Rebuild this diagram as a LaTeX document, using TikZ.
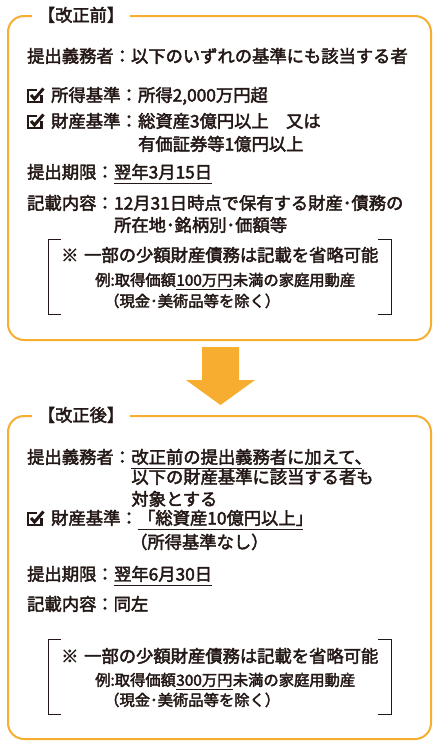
\documentclass[tikz,border=0pt]{standalone}
\usepackage{fontspec}
\setmainfont{Noto Sans CJK JP}[FakeBold=2.5]
\usepackage{xcolor}
\usepackage{tikz}
\usetikzlibrary{positioning}

\definecolor{kaiorange}{RGB}{246,173,48}
\definecolor{ink}{HTML}{231815}

\tikzset{
	txt/.style={font=\fontsize{17.3}{20}\selectfont, anchor=west, inner sep=0pt, text=ink, text height=14pt, text depth=3pt},
	txtl/.style={txt},
	txts/.style={txt, font=\fontsize{15.3}{18}\selectfont, text height=12pt, text depth=2.5pt},
	frame/.style={draw=kaiorange, line width=2pt, rounded corners=16pt},
	ttl/.style={txt, anchor=center, fill=white, minimum width=98pt, minimum height=20pt},
	brk/.style={draw=ink, line width=1pt},
	uline/.style={draw=ink, line width=1pt},
	chkbox/.pic={
		\draw[ink, line width=2.2pt] (9,-6) -- (0,-6) -- (0,6) -- (13.5,6) -- (13.5,-1);
		\draw[ink, line width=3pt] (3,-1) -- (6.5,3) -- (15.5,-7.5);
	}
}

\begin{document}
\begin{tikzpicture}[x=1pt, y=-1pt]
	\useasboundingbox (0,0) rectangle (440,750);

	\draw[frame] (8,16) rectangle (431,340);
	\node[ttl] at (81,16) (mae) {【改正前】};

	\node[txt] at (27,57) (gm1) {提出義務者：以下のいずれの基準にも該当する者};
	\pic at (28,96) {chkbox};
	\node[txt] at (51,96) (sk1) {所得基準：};
	\node[txt, right=0pt of sk1] (sk1v) {所得2,000万円超};
	\pic at (28,122) {chkbox};
	\node[txt] at (51,122) (zs1) {財産基準：};
	\node[txt, right=0pt of zs1] (zs1v) {総資産3億円以上　又は};
	\node[txt] at (zs1v.west |- 0,145) (zs1w) {有価証券等1億円以上};
	\node[txt] at (27,173) (kg1) {提出期限：};
	\node[txt, right=0pt of kg1] (kg1v) {翌年3月15日};
	\draw[uline] ([yshift=-5pt]kg1v.base west) -- ([yshift=-5pt]kg1v.base east);
	\node[txt] at (27,204) (kn1) {記載内容：};
	\node[txt, right=0pt of kn1] (kn1v) {12月31日時点で保有する財産･債務の};
	\node[txt] at (kn1v.west |- 0,226) (kn1w) {所在地･銘柄別･価額等};

	\draw[brk] (61,239) -| (48,314) -- (61,314);
	\draw[brk] (378,239) -| (391,314) -- (378,314);
	\node[txtl] at (61,256) (kome1) {※};
	\node[txtl] at (84,256) (sg1) {一部の少額財産債務は記載を省略可能};
	\node[txts] at (95,281) (ex1) {例:取得価額};
	\node[txts, right=0pt of ex1] (ex1v) {100万円};
	\node[txts, right=0pt of ex1v] (ex1w) {未満の家庭用動産};
	\draw[uline] ([yshift=-4pt]ex1v.base west) -- ([yshift=-4pt]ex1v.base east);
	\node[txts] at (104,302) (jg1) {（現金･美術品等を除く）};

	\fill[kaiorange] (202,347) -- (239,347) -- (239,380) -- (255,380) -- (220.5,405)
		-- (186,380) -- (202,380) -- cycle;

	\draw[frame] (8,416) rectangle (431,739);
	\node[ttl] at (81,416) (ato) {【改正後】};

	\node[txt] at (27,458) (gm2) {提出義務者：};
	\node[txt, right=0pt of gm2] (gm2v) {改正前の提出義務者に加えて、};
	\draw[uline] ([yshift=-5pt]gm2v.base west) -- ([yshift=-5pt,xshift=-10pt]gm2v.base east);
	\node[txt] at (gm2v.west |- 0,478) (gm2w) {以下の財産基準に該当する者も};
	\node[txt] at (gm2v.west |- 0,500) (gm2x) {対象とする};
	\pic at (28,519) {chkbox};
	\node[txt] at (51,519) (zs2) {財産基準：};
	\node[txt, right=0pt of zs2] (zs2v) {「総資産10億円以上」};
	\draw[uline] ([yshift=-5pt]zs2v.base west) -- ([yshift=-5pt,xshift=-10pt]zs2v.base east);
	\node[txt] at ([xshift=-8pt]zs2v.west |- 0,543) (zs2w) {（所得基準なし）};
	\node[txt] at (27,575) (kg2) {提出期限：};
	\node[txt, right=0pt of kg2] (kg2v) {翌年6月30日};
	\draw[uline] ([yshift=-5pt]kg2v.base west) -- ([yshift=-5pt]kg2v.base east);
	\node[txt] at (27,605) (kn2) {記載内容：同左};

	\draw[brk] (61,639) -| (48,714) -- (61,714);
	\draw[brk] (378,639) -| (391,714) -- (378,714);
	\node[txtl] at (61,657) (kome2) {※};
	\node[txtl] at (84,657) (sg2) {一部の少額財産債務は記載を省略可能};
	\node[txts] at (95,681) (ex2) {例:取得価額};
	\node[txts, right=0pt of ex2] (ex2v) {300万円};
	\node[txts, right=0pt of ex2v] (ex2w) {未満の家庭用動産};
	\draw[uline] ([yshift=-4pt]ex2v.base west) -- ([yshift=-4pt]ex2v.base east);
	\node[txts] at (104,701) (jg2) {（現金･美術品等を除く）};
\end{tikzpicture}
\end{document}
